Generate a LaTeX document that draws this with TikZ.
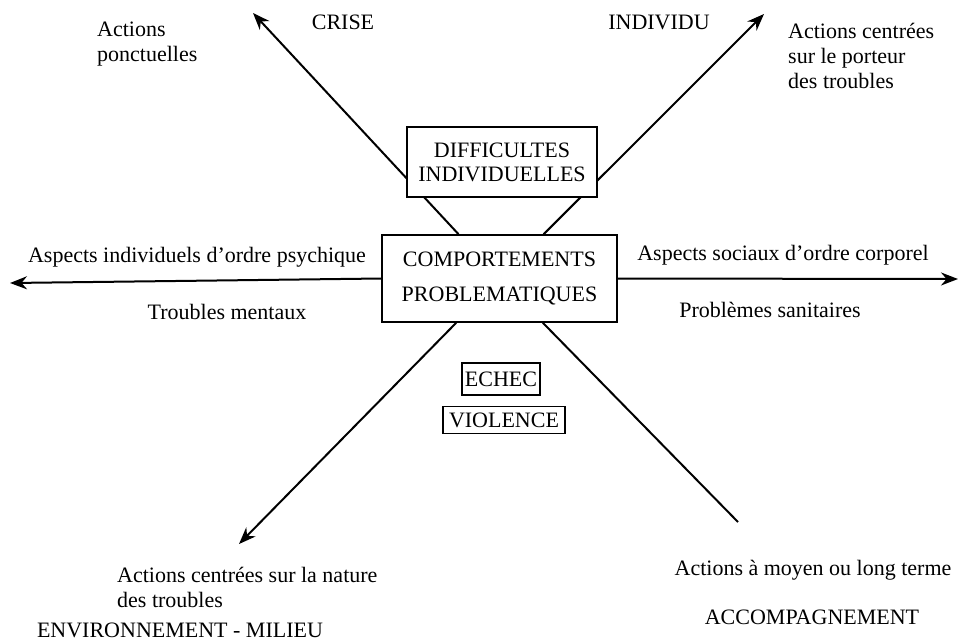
\documentclass[tikz,border=0pt]{standalone}
\usepackage{fontspec}
\setmainfont{Liberation Serif}
\usetikzlibrary{arrows.meta}
\begin{document}
\begin{tikzpicture}[x=1pt,y=-1pt,
  every node/.style={font=\fontsize{22}{25}\selectfont, inner sep=0pt},
  lbl/.style={align=left},
  box/.style={draw, line width=1.6pt, fill=white, align=center},
  ray/.style={line width=2pt},
  tip/.style={-{Stealth[length=17pt,width=13pt]}}]
\useasboundingbox (0,0) rectangle (964,641);

% central box
\node[box, minimum width=235pt, minimum height=87pt,
      font=\fontsize{22}{35}\selectfont] (core) at (499.5,278.5)
  {COMPORTEMENTS\\PROBLEMATIQUES};

% free ends of the rays
\coordinate (nw) at (253,13);
\coordinate (ne) at (764,14);
\coordinate (sw) at (239,544);
\coordinate (se) at (738,522);
\coordinate (w)  at (10,283);
\coordinate (e)  at (958,279);

\draw[ray, tip] (core) -- (nw);
\draw[ray, tip] (core) -- (ne);
\draw[ray, tip] (core) -- (sw);
\draw[ray] (core) -- (se);
\draw[ray, tip] (core.west) -- (w);
\draw[ray, tip] (core.east) -- (e);

% boxes lying over the rays
\node[box, minimum width=190pt, minimum height=70pt,
      font=\fontsize{22}{24}\selectfont] (diff) at (502,162)
  {DIFFICULTES\\INDIVIDUELLES};
\node[box, minimum width=78pt, minimum height=32pt] (echec) at (501,379) {ECHEC};
\node[box, minimum width=122pt, minimum height=27pt] (viol) at (504,420) {VIOLENCE};

% labels
\node[lbl, anchor=west] (ponct) at (97,44) {Actions\\ponctuelles};
\node (crise) at (343,22) {CRISE};
\node (indiv) at (659,22) {INDIVIDU};
\node[lbl, anchor=west] (porteur) at (788,56) {Actions centrées\\sur le porteur\\des troubles};
\node (psy) at (197,257) {Aspects individuels d'ordre psychique};
\node (ment) at (227,312) {Troubles mentaux};
\node (corp) at (783,255) {Aspects sociaux d'ordre corporel};
\node (sani) at (770,310) {Problèmes sanitaires};
\node[lbl, anchor=west] (nature) at (117,587) {Actions centrées sur la nature\\des troubles};
\node (env) at (180,630) {ENVIRONNEMENT - MILIEU};
\node (moyen) at (813,570) {Actions à moyen ou long terme};
\node (accomp) at (812,617) {ACCOMPAGNEMENT};
\end{tikzpicture}
\end{document}
